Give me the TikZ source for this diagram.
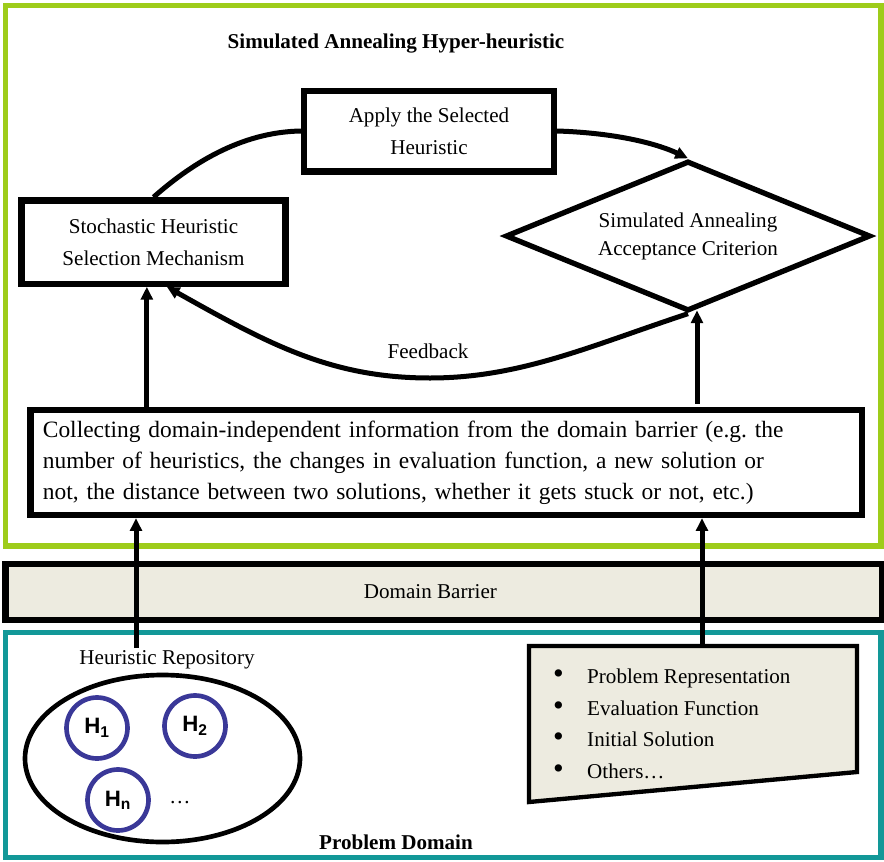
\documentclass[tikz,border=0pt]{standalone}
\usepackage{fontspec}
\setmainfont{Liberation Serif}
\newfontfamily\hfont{Liberation Sans}
\usetikzlibrary{arrows.meta,shapes.geometric}

\definecolor{framegreen}{RGB}{158,204,26}
\definecolor{frameteal}{RGB}{18,152,152}
\definecolor{barrierfill}{RGB}{237,235,224}
\definecolor{hblue}{RGB}{58,56,152}

\newcommand{\bulletitem}{\makebox[1.02cm][l]{\fontsize{26}{26}\selectfont\textbullet}}

\begin{document}
\begin{tikzpicture}[
  x=0.03cm, y=-0.03cm,
  font=\fontsize{18}{27}\selectfont,
  box/.style={draw, line width=0.19cm, rectangle, align=center, inner sep=0pt},
  crit/.style={draw, line width=0.16cm, diamond, shape aspect=2.43, align=center, inner sep=0pt, minimum width=10.95cm, minimum height=4.5cm, font=\fontsize{18}{24}\selectfont},
  frame/.style={line width=0.17cm},
  link/.style={-{Triangle[length=0.38cm,width=0.35cm]}, line width=0.15cm},
  curve/.style={line width=0.15cm},
  heur/.style={draw=hblue, line width=0.14cm, circle, minimum size=1.83cm, inner sep=0pt, font=\hfont\bfseries\fontsize{19}{19}\selectfont},
  bold/.style={font=\bfseries\fontsize{18}{27}\selectfont}
]
\useasboundingbox (0,0) rectangle (884,862);

% frames
\draw[frame, framegreen] (5.5,5.5) rectangle (881,546);
\draw[frame, frameteal] (5.5,632.5) rectangle (881,857.5);

\node[bold] (title) at (396,44) {Simulated Annealing Hyper-heuristic};
\node[bold] (domain) at (396,842) {Problem Domain};

% hyper-heuristic
\node[box, minimum width=7.49cm, minimum height=2.42cm] (apply) at (429,131) {Apply the Selected\\Heuristic};
\node[box, minimum width=7.92cm, minimum height=2.5cm] (stoch) at (153.5,242) {Stochastic Heuristic\\Selection Mechanism};
\node[crit] (accept) at (688,236) {Simulated Annealing\\Acceptance Criterion};
\node[box, minimum width=24.945cm, minimum height=3.15cm, text width=24.2cm, align=left, font=\fontsize{20}{26.5}\selectfont] (collect) at (446.25,462.5)
{Collecting domain-independent information from the domain barrier (e.g.\ the\\number of heuristics, the changes in evaluation function, a new solution or\\not, the distance between two solutions, whether it gets stuck or not, etc.)};
\node (fb) at (428,351) {Feedback};

\draw[curve] (stoch.north) .. controls (190,165) and (240,132) .. (apply.west);
\draw[link] (apply.east) .. controls (620,133) and (660,145) .. (accept.north);
\draw[link] (accept.south) .. controls (590,346) and (520,378) .. (430,378)
  .. controls (330,378) and (267,343) .. ([xshift=0.4cm]stoch.south);
\draw[link] ([xshift=-0.2cm]stoch.south |- collect.north) -- ([xshift=-0.2cm]stoch.south);
\draw[link] ([xshift=0.27cm,yshift=0.1cm]accept.south |- collect.north) -- ([xshift=0.27cm,yshift=0.1cm]accept.south);

\node[box, fill=barrierfill, minimum width=26.3cm, minimum height=1.68cm] (barrier) at (443.75,592) {Domain Barrier\hspace{0.8cm}};

% problem domain
\node (repolabel) at (167,660) {Heuristic Repository};
\node[draw, ellipse, line width=0.14cm, minimum width=8.25cm, minimum height=5.01cm] (repo) at (162.5,758.5) {};
\node[heur] (h1) at (97,728) {H\textsubscript{1}};
\node[heur] (h2) at (195,726) {H\textsubscript{2}};
\node[heur] (hn) at (118,800) {H\textsubscript{n}};
\node (hdots) at (180,803) {\ldots};

\draw[line width=0.13cm, fill=barrierfill] (529,646) -- (857,646) -- (857,772) -- (529,802) -- cycle;
\node[anchor=west, align=left, inner sep=0pt] (inputs) at (553,724)
{\bulletitem Problem Representation\\
 \bulletitem Evaluation Function\\
 \bulletitem Initial Solution\\
 \bulletitem Others\ldots};

\coordinate (repotop) at (136,648);
\coordinate (intop) at (702,646);
\draw[link] (repotop) -- (repotop |- collect.south);
\draw[link] (intop) -- (intop |- collect.south);
\end{tikzpicture}
\end{document}
